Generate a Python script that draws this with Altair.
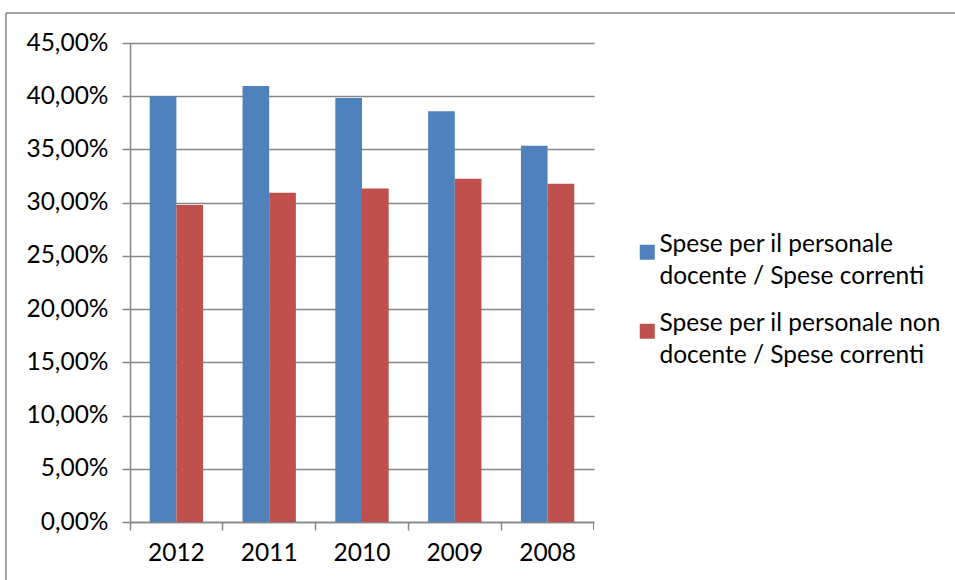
import altair as alt
import pandas as pd

years = ["2012", "2011", "2010", "2009", "2008"]
docente = [0.4000, 0.4097, 0.3984, 0.3859, 0.3534]
non_docente = [0.2978, 0.3094, 0.3134, 0.3225, 0.3178]
series = [
    "Spese per il personale docente / Spese correnti",
    "Spese per il personale non docente / Spese correnti",
]
y_ticks = [0.0, 0.05, 0.10, 0.15, 0.20, 0.25, 0.30, 0.35, 0.40, 0.45]

rows = []
for i, y in enumerate(years):
    rows.append({"anno": y, "serie": series[0], "valore": docente[i]})
    rows.append({"anno": y, "serie": series[1], "valore": non_docente[i]})
df = pd.DataFrame(rows)

W, H = 464, 479
GRAY = "#868686"
FONT = "Lato"
FS = 24.5

label_expr = (
    "datum.value == '" + series[0] + "' ? ['Spese per il personale', 'docente / Spese correnti'] : "
    "['Spese per il personale non', 'docente / Spese correnti']"
)

bars = alt.Chart(df).mark_bar().encode(
    x=alt.X(
        "anno:N",
        sort=years,
        title=None,
        scale=alt.Scale(paddingInner=0, paddingOuter=0),
        axis=alt.Axis(
            labelAngle=0,
            bandPosition=0,
            tickSize=8,
            tickColor=GRAY,
            domainColor=GRAY,
            labelPadding=11,
            grid=False,
        ),
    ),
    xOffset=alt.XOffset(
        "serie:N",
        sort=series,
        scale=alt.Scale(paddingOuter=0.74, paddingInner=0),
    ),
    y=alt.Y(
        "valore:Q",
        title=None,
        scale=alt.Scale(domain=[0, 0.45], nice=False, zero=True),
        axis=alt.Axis(
            values=y_ticks,
            labelExpr="replace(format(datum.value, '.2%'), '.', ',')",
            tickSize=8,
            tickColor=GRAY,
            domainColor=GRAY,
            gridColor=GRAY,
            grid=True,
            labelPadding=14,
        ),
    ),
    color=alt.Color(
        "serie:N",
        sort=series,
        scale=alt.Scale(domain=series, range=["#4F81BD", "#C0504D"]),
        legend=alt.Legend(
            title=None,
            orient="none",
            legendX=505,
            legendY=197,
            symbolType="square",
            symbolSize=225,
            symbolStrokeWidth=0,
            labelExpr=label_expr,
            labelFont=FONT,
            labelFontSize=FS,
            labelColor="black",
            labelLimit=400,
            labelOffset=0,
            labelBaseline="alphabetic",
            rowPadding=22,
        ),
    ),
)

one = alt.Data(values=[{"k": 1}])
frame_top = alt.Chart(one).mark_rule(color=GRAY, strokeWidth=1.5).encode(
    x=alt.value(-124), x2=alt.value(955 - 130), y=alt.value(-30)
)
frame_left = alt.Chart(one).mark_rule(color=GRAY, strokeWidth=1.5).encode(
    x=alt.value(-124), y=alt.value(-30), y2=alt.value(580 - 43)
)
end_tick = alt.Chart(one).mark_rule(color=GRAY, strokeWidth=1).encode(
    x=alt.value(W - 0.5), y=alt.value(H), y2=alt.value(H + 8)
)

chart = (
    alt.layer(frame_top, frame_left, bars, end_tick)
    .properties(
        width=W,
        height=H,
        autosize=alt.AutoSizeParams(type="none"),
        padding={"left": 130, "top": 43, "right": 955 - 130 - W, "bottom": 580 - 43 - H},
        background="white",
    )
    .configure(
        view=alt.ViewConfig(stroke=None),
        axis=alt.AxisConfig(
            labelFont=FONT,
            labelFontSize=FS,
            labelColor="black",
            domainWidth=1.5,
            gridWidth=1.5,
            tickWidth=1.5,
        ),
        style={"guide-label": {"lineHeight": 32}},
    )
)

chart.save("out.html", embed_options={"renderer": "svg", "actions": False})
